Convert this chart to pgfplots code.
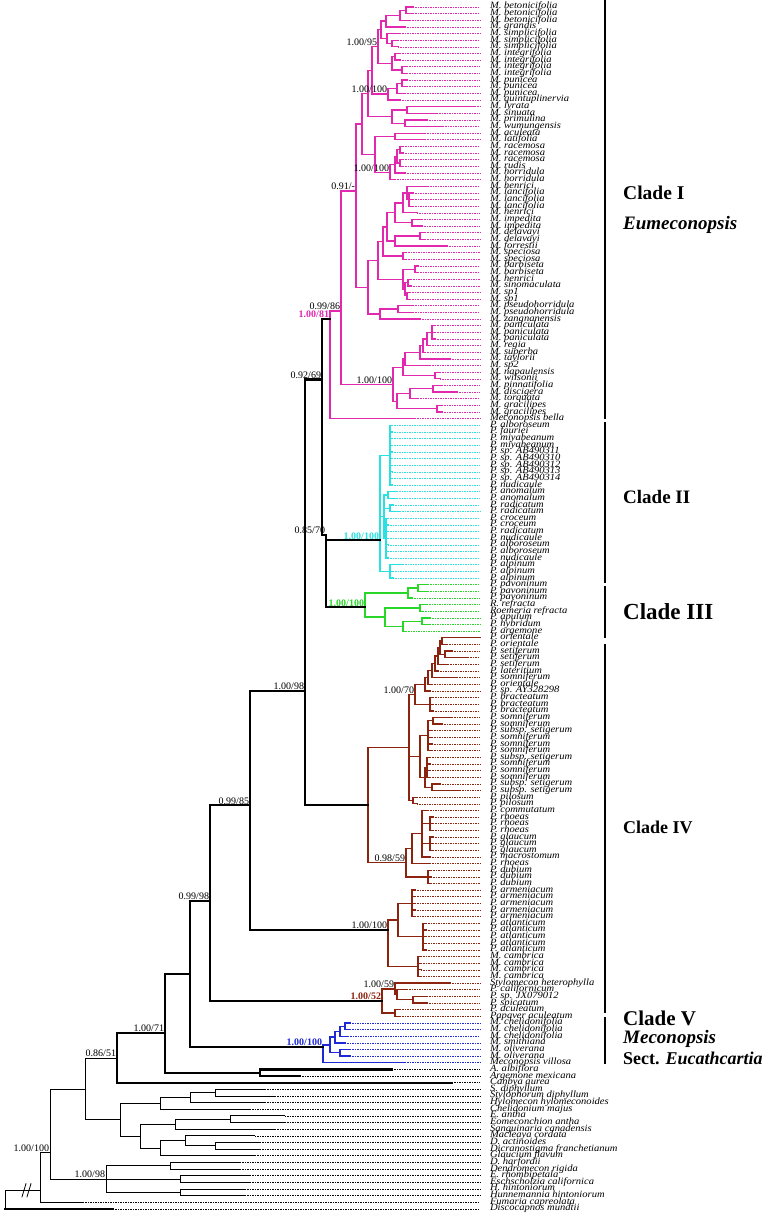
\documentclass[border=0pt]{standalone}
\usepackage{fontspec}
\setmainfont{Liberation Serif}
\newfontfamily\leaffont[FakeStretch=1.1]{Liberation Serif}
\usepackage{pgfplots}
\usepackage{pgfplotstable}
\pgfplotsset{compat=1.18}
\definecolor{cI}{RGB}{225,40,175}
\definecolor{cII}{RGB}{40,225,225}
\definecolor{cIII}{RGB}{40,215,40}
\definecolor{cIV}{RGB}{140,35,15}
\definecolor{cV}{RGB}{30,40,215}

% ---------- leaves: i, parent x, tip x, name ----------
\pgfplotstableread[col sep=comma]{
i,x0,x1,name
1,406,413,M. betonicifolia
2,406,413,M. betonicifolia
3,400,410,M. betonicifolia
4,386,405,M. grandis
5,387,400,M. simplicifolia
6,392,398,M. simplicifolia
7,392,398,M. simplicifolia
8,395,400,M. integrifolia
9,395,400,M. integrifolia
10,402,407,M. integrifolia
11,402,407,M. integrifolia
12,402,407,M. punicea
13,402,407,M. punicea
14,397,405,M. punicea
15,388,400,M. quintuplinervia
16,407,475,M. lyrata
17,407,437,M. sinuata
18,405,427,M. primulina
19,405,443,M. wumungensis
20,395,425,M. aculeata
21,395,425,M. latifolia
22,400,403,M. racemosa
23,400,403,M. racemosa
24,400,403,M. racemosa
25,400,403,M. rudis
26,395,405,M. horridula
27,390,395,M. horridula
28,407,428,M. henrici
29,409,413,M. lancifolia
30,409,413,M. lancifolia
31,409,413,M. lancifolia
32,403,417,M. henrici
33,412,422,M. impedita
34,412,422,M. impedita
35,420,425,M. delavayi
36,420,425,M. delavayi
37,395,447,M. forrestii
38,403,406,M. speciosa
39,403,406,M. speciosa
40,415,418,M. barbiseta
41,415,418,M. barbiseta
42,408,411,M. henrici
43,408,411,M. sinomaculata
44,407,410,M. sp1
45,407,410,M. sp1
46,398,413,M. pseudohorridula
47,398,413,M. pseudohorridula
48,380,420,M. zangnanensis
49,432,435,M. paniculata
50,432,435,M. paniculata
51,432,435,M. paniculata
52,427,430,M. regia
53,423,425,M. superba
54,420,450,M. taylorii
55,405,430,M. sp2
56,435,440,M. napaulensis
57,435,440,M. wilsonii
58,433,442,M. pinnatifolia
59,433,457,M. discigera
60,410,418,M. torquata
61,437,442,M. gracilipes
62,437,442,M. gracilipes
63,330,415,Meconopsis bella
}\lI
\pgfplotstableread[col sep=comma]{
i,x0,x1,name
64,390,392,P. alboroseum
65,390,392,P. fauriei
66,390,392,P. miyabeanum
67,390,392,P. miyabeanum
68,390,392,P. sp. AB490311
69,390,392,P. sp. AB490310
70,390,392,P. sp. AB490312
71,390,392,P. sp. AB490313
72,390,392,P. sp. AB490314
73,390,392,P. nudicaule
74,388,397,P. anomalum
75,388,397,P. anomalum
76,390,393,P. radicatum
77,390,400,P. radicatum
78,386,388,P. croceum
79,386,388,P. croceum
80,386,388,P. radicatum
81,386,388,P. nudicaule
82,386,388,P. alboroseum
83,386,388,P. alboroseum
84,386,388,P. nudicaule
85,390,403,P. alpinum
86,390,393,P. alpinum
87,390,393,P. alpinum
}\lII
\pgfplotstableread[col sep=comma]{
i,x0,x1,name
88,418,428,P. pavoninum
89,418,428,P. pavoninum
90,408,412,P. pavoninum
91,420,427,R. refracta
92,420,423,Roemeria refracta
93,422,430,P. apulum
94,422,430,P. hybridum
95,403,406,P. argemone
}\lIII
\pgfplotstableread[col sep=comma]{
i,x0,x1,name
96,442,480,P. orientale
97,442,447,P. orientale
98,445,452,P. setiferum
99,445,468,P. setiferum
100,438,448,P. setiferum
101,435,438,P. lateritium
102,432,457,P. somniferum
103,428,432,P. orientale
104,425,430,P. sp. AY328298
105,430,433,P. bracteatum
106,430,433,P. bracteatum
107,430,433,P. bracteatum
108,433,452,P. somniferum
109,433,442,P. somniferum
110,428,432,P. subsp. setigerum
111,428,432,P. somniferum
112,428,432,P. somniferum
113,428,432,P. somniferum
114,427,430,P. subsp. setigerum
115,427,430,P. somniferum
116,427,430,P. somniferum
117,427,430,P. somniferum
118,432,440,P. subsp. setigerum
119,432,460,P. subsp. setigerum
120,413,417,P. pilosum
121,413,417,P. pilosum
122,422,428,P. commutatum
123,430,433,P. rhoeas
124,430,433,P. rhoeas
125,430,433,P. rhoeas
126,430,433,P. glaucum
127,430,433,P. glaucum
128,430,433,P. glaucum
129,422,430,P. macrostomum
130,412,430,P. rhoeas
131,428,431,P. dubium
132,428,431,P. dubium
133,428,431,P. dubium
134,412,415,P. armeniacum
135,412,415,P. armeniacum
136,412,415,P. armeniacum
137,412,415,P. armeniacum
138,412,415,P. armeniacum
139,423,426,P. atlanticum
140,423,426,P. atlanticum
141,423,426,P. atlanticum
142,423,426,P. atlanticum
143,423,426,P. atlanticum
144,418,421,M. cambrica
145,418,421,M. cambrica
146,418,421,M. cambrica
147,418,421,M. cambrica
148,395,450,Stylomecon heterophylla
149,397,407,P. californicum
150,413,427,P. sp. JX079012
151,413,427,P. spicatum
152,395,400,P. aculeatum
153,395,400,Papaver aculeatum
}\lIV
\pgfplotstableread[col sep=comma]{
i,x0,x1,name
154,345,350,M. chelidonifolia
155,345,350,M. chelidonifolia
156,340,348,M. chelidonifolia
157,335,345,M. smithiana
158,340,350,M. oliverana
159,340,350,M. oliverana
160,323,405,Meconopsis villosa
}\lV
\pgfplotstableread[col sep=comma]{
i,x0,x1,name
161,260,392,A. albiflora
162,260,300,Argemone mexicana
163,117,452,Canbya aurea
182,5,113,Discocapnos mundtii
}\lK
\pgfplotstableread[col sep=comma]{
i,x0,x1,name
164,215,265,S. diphyllum
165,215,275,Stylophorum diphyllum
166,190,265,Hylomecon hylomeconoides
167,160,250,Chelidonium majus
168,230,285,E. antha
169,230,285,Eomeconchion antha
170,175,275,Sanguinaria canadensis
171,185,255,Macleaya cordata
172,215,260,D. actinoides
173,215,260,Dicranostigma franchetianum
174,160,255,Glaucium flavum
175,170,240,D. harfordii
176,170,240,Dendromecon rigida
177,180,250,E. rhombipetala
178,180,250,Eschscholzia californica
179,180,245,H. hintoniorum
180,180,245,Hunnemannia hintoniorum
181,40,83,Fumaria capreolata
}\lO

% ---------- internal horizontal branches: y, parent x, node x ----------
\pgfplotstableread{
y x0 x1
1.5 400 406
2.25 386 400
3.125 381 386
6.5 387 392
5.75 381 387
4.4375 378 381
8.5 392 395
10.5 392 402
9.5 378 392
6.97 372 378
12.5 397 402
13.25 388 397
14.125 372 388
10.55 368 372
16.5 392 407
18.5 392 405
17.5 368 392
14.02 362 368
20.5 375 395
22.5 397 400
24.5 397 400
23.5 395 397
24.75 390 395
25.875 375 390
23.19 362 375
18.6 356 362
30 407 409
29 403 407
30.5 395 403
33.5 395 412
32 387 395
35.5 395 420
36.25 387 395
34.125 383 387
38.5 383 403
36.31 378 383
40.5 403 415
42.5 405 408
44.5 405 407
43.5 403 405
42 378 403
39.16 368 378
46.5 380 398
47.25 368 380
43.2 356 368
50 427 432
51 423 427
52 420 423
53 405 420
54 403 405
56.5 403 435
55.25 393 403
58.5 410 433
59.25 397 410
61.5 397 437
60.375 393 397
57.81 341 393
28.7 341 356
46.8 330 341
}\hI
\pgfplotstableread{
x ya yb
406 1 2
400 1.5 3
386 2.25 4
392 6 7
387 5 6.5
381 3.125 5.75
395 8 9
402 10 11
392 8.5 10.5
378 4.4375 9.5
402 12 13
397 12.5 14
388 13.25 15
372 6.97 14.125
407 16 17
405 18 19
392 16.5 18.5
368 10.55 17.5
395 20 21
400 22 23
400 24 25
397 22.5 24.5
395 23.5 26
390 24.75 27
375 20.5 25.875
362 14.02 23.19
409 29 31
407 28 30
403 29 32
412 33 34
395 30.5 33.5
420 35 36
395 35.5 37
387 32 36.25
403 38 39
383 34.125 38.5
415 40 41
408 42 43
407 44 45
405 42.5 44.5
403 40.5 43.5
378 36.31 42
398 46 47
380 46.5 48
368 39.16 47.25
432 49 51
427 50 52
423 51 53
420 52 54
405 53 55
435 56 57
403 54 56.5
433 58 59
410 58.5 60
437 61 62
397 59.25 61.5
393 55.25 60.375
356 18.6 43.2
341 28.7 57.81
330 46.8 63
}\vI
\pgfplotstableread{
y x0 x1
74.5 384 388
76.5 384 390
81 384 386
68.5 380 390
77.75 380 384
86 380 390
}\hII
\pgfplotstableread{
x ya yb
390 64 73
388 74 75
390 76 77
386 78 84
390 85 87
384 74.5 81
380 68.5 86
}\vII
\pgfplotstableread{
y x0 x1
88.5 408 418
89.25 365 408
91.5 385 420
93.5 403 422
94.25 385 403
92.875 365 385
}\hIII
\pgfplotstableread{
x ya yb
418 88 89
408 88.5 90
420 91 92
422 93 94
403 93.5 95
385 91.5 94.25
365 89.25 92.875
}\vIII
\pgfplotstableread{
y x0 x1
96.5 440 442
98.5 440 445
97.5 438 440
98.75 435 438
99.875 432 435
100.94 428 432
101.97 425 428
102.98 415 425
106 415 430
104.49 409 415
108.5 428 433
110.75 420 428
115.5 425 427
118.5 425 432
117 420 425
113.875 409 420
120.5 409 413
124 422 430
127 422 430
125.5 412 422
127.75 406 412
132 406 428
112.5 368 409
129.875 368 406
136 398 412
141 398 423
138.5 388 398
145.5 388 418
150.5 397 413
149.75 395 397
148.875 382 395
152.5 382 395
}\hIV
\pgfplotstableread{
x ya yb
442 96 97
445 98 99
440 96.5 98.5
438 97.5 100
435 98.75 101
432 99.875 102
428 100.94 103
425 101.97 104
430 105 107
415 102.98 106
433 108 109
428 108.5 113
427 114 117
432 118 119
425 115.5 118.5
420 110.75 117
413 120 121
409 104.49 120.5
430 123 125
430 126 128
422 122 129
412 125.5 130
428 131 133
406 127.75 132
368 112.5 129.875
412 134 138
423 139 143
398 136 141
418 144 147
388 138.5 145.5
413 150 151
397 149 150.5
395 148 149.75
395 152 153
382 148.875 152.5
}\vIV
\pgfplotstableread{
y x0 x1
154.5 340 345
155.25 335 340
156.125 330 335
158.5 330 340
157.31 323 330
}\hV
\pgfplotstableread{
x ya yb
345 154 155
340 154.5 156
335 155.25 157
340 158 159
330 156.125 158.5
323 157.31 160
}\vV
% backbone (thick black)
\pgfplotstableread{
y x0 x1
48 322 330
81.3 326 380
91.4 326 365
80.5 322 326
57.1 305 322
121.2 305 368
104 250 305
140 250 388
121.2 210 250
150.7 210 382
135.6 190 210
157.6 190 323
146.6 165 190
161.5 165 260
155.5 117 165
}\hK
\pgfplotstableread{
x ya yb
326 80.5 91.4
322 48 80.5
305 57.1 121.2
250 104 140
210 121.2 150.7
190 135.6 157.6
260 161 162
165 146.6 161.5
117 155.5 163
}\vK
% outgroups (thin black)
\pgfplotstableread{
y x0 x1
159.3 85 117
164.5 190 215
165.25 160 190
166.125 120 160
168.5 175 230
169.25 140 175
172.5 185 215
171.75 160 185
172.875 140 160
171.06 120 140
168.6 85 120
164 50 85
175.5 106 170
177.5 106 180
179.5 106 180
177.5 50 106
173.5 40 50
179.2 5 40
}\hO
\pgfplotstableread{
x ya yb
215 164 165
190 164.5 166
160 165.25 167
230 168 169
175 168.5 170
215 172 173
185 171 172.5
160 171.75 174
140 169.25 172.875
120 166.125 171.06
85 159.3 168.6
170 175 176
180 177 178
180 179 180
106 175.5 179.5
50 164 177.5
40 173.5 181
5 179.2 182
}\vO

\pgfplotsset{
  hbr/.style={quiver={u=\thisrow{x1}-\thisrow{x0},v=0}},
  vbr/.style={quiver={u=0,v=\thisrow{yb}-\thisrow{ya}}},
  lead/.style={dash pattern=on 0.9pt off 1.6pt, line width=0.6pt, quiver={u=480-\thisrow{x1},v=0}},
  lab/.style={draw=none, point meta=explicit symbolic,
     nodes near coords={\raisebox{-2.7pt}[0pt][0pt]{\makebox[0pt][l]{\leaffont\itshape\pgfplotspointmeta}}},
     every node near coord/.append style={text=black, inner sep=0pt, font=\fontsize{9.6}{9.6}\selectfont}},
}
\tikzset{bs/.style={font=\fontsize{10}{10}\selectfont, inner sep=0.8pt, anchor=south east}}

\begin{document}
\begin{tikzpicture}
\begin{axis}[width=773pt, height=1218pt, scale only axis,
  xmin=0, xmax=773, ymin=-0.0542, ymax=183.377, y dir=reverse,
  hide axis, clip=false, line cap=rect]
% clade I
\addplot[cI, line width=1.3pt, hbr] table[x=x0,y=y]{\hI};
\addplot[cI, line width=1.3pt, vbr] table[x=x,y=ya]{\vI};
\addplot[cI, line width=1.3pt, hbr] table[x=x0,y=i]{\lI};
\addplot[cI, lead] table[x=x1,y=i]{\lI};
\addplot[lab] table[x expr=490,y=i,meta=name]{\lI};
% clade II
\addplot[cII, line width=1.3pt, hbr] table[x=x0,y=y]{\hII};
\addplot[cII, line width=1.3pt, vbr] table[x=x,y=ya]{\vII};
\addplot[cII, line width=1.3pt, hbr] table[x=x0,y=i]{\lII};
\addplot[cII, lead] table[x=x1,y=i]{\lII};
\addplot[lab] table[x expr=490,y=i,meta=name]{\lII};
% clade III
\addplot[cIII, line width=1.3pt, hbr] table[x=x0,y=y]{\hIII};
\addplot[cIII, line width=1.3pt, vbr] table[x=x,y=ya]{\vIII};
\addplot[cIII, line width=1.3pt, hbr] table[x=x0,y=i]{\lIII};
\addplot[cIII, lead] table[x=x1,y=i]{\lIII};
\addplot[lab] table[x expr=490,y=i,meta=name]{\lIII};
% clade IV
\addplot[cIV, line width=1.3pt, hbr] table[x=x0,y=y]{\hIV};
\addplot[cIV, line width=1.3pt, vbr] table[x=x,y=ya]{\vIV};
\addplot[cIV, line width=1.3pt, hbr] table[x=x0,y=i]{\lIV};
\addplot[cIV, lead] table[x=x1,y=i]{\lIV};
\addplot[lab] table[x expr=490,y=i,meta=name]{\lIV};
% clade V
\addplot[cV, line width=1.3pt, hbr] table[x=x0,y=y]{\hV};
\addplot[cV, line width=1.3pt, vbr] table[x=x,y=ya]{\vV};
\addplot[cV, line width=1.3pt, hbr] table[x=x0,y=i]{\lV};
\addplot[cV, lead] table[x=x1,y=i]{\lV};
\addplot[lab] table[x expr=490,y=i,meta=name]{\lV};
% backbone
\addplot[black, line width=2.2pt, hbr] table[x=x0,y=y]{\hK};
\addplot[black, line width=2.2pt, vbr] table[x=x,y=ya]{\vK};
\addplot[black, line width=2.2pt, hbr] table[x=x0,y=i]{\lK};
\addplot[black, lead] table[x=x1,y=i]{\lK};
\addplot[lab] table[x expr=490,y=i,meta=name]{\lK};
% outgroups
\addplot[black, line width=0.9pt, hbr] table[x=x0,y=y]{\hO};
\addplot[black, line width=0.9pt, vbr] table[x=x,y=ya]{\vO};
\addplot[black, line width=0.9pt, hbr] table[x=x0,y=i]{\lO};
\addplot[black, lead] table[x=x1,y=i]{\lO};
\addplot[lab] table[x expr=490,y=i,meta=name]{\lO};

% support values
\node[bs] at (axis cs:378,6.97) {1.00/95};
\node[bs] at (axis cs:388,14.125) {1.00/100};
\node[bs] at (axis cs:356,28.7) {0.91/-};
\node[bs] at (axis cs:390,25.875) {1.00/100};
\node[bs] at (axis cs:341,46.8) {0.99/86};
\node[bs, text=cI, font=\fontsize{10}{10}\selectfont\bfseries] at (axis cs:330,48) {1.00/81};
\node[bs] at (axis cs:393,57.81) {1.00/100};
\node[bs] at (axis cs:322,57.1) {0.92/69};
\node[bs] at (axis cs:326,80.5) {0.85/70};
\node[bs, text=cII, font=\fontsize{10}{10}\selectfont\bfseries] at (axis cs:380,81.3) {1.00/100};
\node[bs, text=cIII, font=\fontsize{10}{10}\selectfont\bfseries] at (axis cs:365,91.4) {1.00/100};
\node[bs] at (axis cs:305,104) {1.00/98};
\node[bs] at (axis cs:415,104.49) {1.00/70};
\node[bs] at (axis cs:250,121.2) {0.99/85};
\node[bs] at (axis cs:406,129.875) {0.98/59};
\node[bs] at (axis cs:210,135.6) {0.99/98};
\node[bs] at (axis cs:388,140) {1.00/100};
\node[bs] at (axis cs:395,148.875) {1.00/59};
\node[bs, text=cIV, font=\fontsize{10}{10}\selectfont\bfseries] at (axis cs:382,150.7) {1.00/52};
\node[bs, text=cV, font=\fontsize{10}{10}\selectfont\bfseries] at (axis cs:323,157.6) {1.00/100};
\node[bs] at (axis cs:165,155.5) {1.00/71};
\node[bs] at (axis cs:117,159.3) {0.86/51};
\node[bs] at (axis cs:50,173.5) {1.00/100};
\node[bs] at (axis cs:106,177.5) {1.00/98};
% break mark on the root branch
\draw[line width=0.8pt] (axis cs:22,180.2) -- (axis cs:26,178.2);
\draw[line width=0.8pt] (axis cs:27,180.2) -- (axis cs:31,178.2);

% clade bars
\draw[line width=2pt] (axis cs:605,-0.3) -- (axis cs:605,62.9);
\draw[line width=2pt] (axis cs:605,63.65) -- (axis cs:605,87.6);
\draw[line width=2pt] (axis cs:605,88.35) -- (axis cs:605,95.9);
\draw[line width=2pt] (axis cs:605,97.1) -- (axis cs:605,152.4);
\draw[line width=2pt] (axis cs:605,153.3) -- (axis cs:605,160.0);
% clade names
\node[anchor=west, inner sep=0pt, font=\fontsize{19.5}{20}\selectfont\bfseries] at (axis cs:623,29.0) {Clade I};
\node[anchor=west, inner sep=0pt, font=\fontsize{19}{20}\selectfont\bfseries\itshape] at (axis cs:623,33.8) {Eumeconopsis};
\node[anchor=west, inner sep=0pt, font=\fontsize{19}{20}\selectfont\bfseries] at (axis cs:623,74.8) {Clade II};
\node[anchor=west, inner sep=0pt, font=\fontsize{23}{24}\selectfont\bfseries] at (axis cs:623,92.1) {Clade III};
\node[anchor=west, inner sep=0pt, font=\fontsize{18}{20}\selectfont\bfseries] at (axis cs:623,124.6) {Clade IV};
\node[anchor=west, inner sep=0pt, font=\fontsize{21}{22}\selectfont\bfseries] at (axis cs:623,153.3) {Clade V};
\node[anchor=west, inner sep=0pt, font=\fontsize{19}{20}\selectfont\bfseries\itshape] at (axis cs:623,156.4) {Meconopsis};
\node[anchor=west, inner sep=0pt, font=\fontsize{18}{20}\selectfont\bfseries] at (axis cs:623,159.3) {Sect. \textit{Eucathcartia}};
\end{axis}
\pgfresetboundingbox
\path (0,0) rectangle (773pt,1218pt);
\end{tikzpicture}
\end{document}
